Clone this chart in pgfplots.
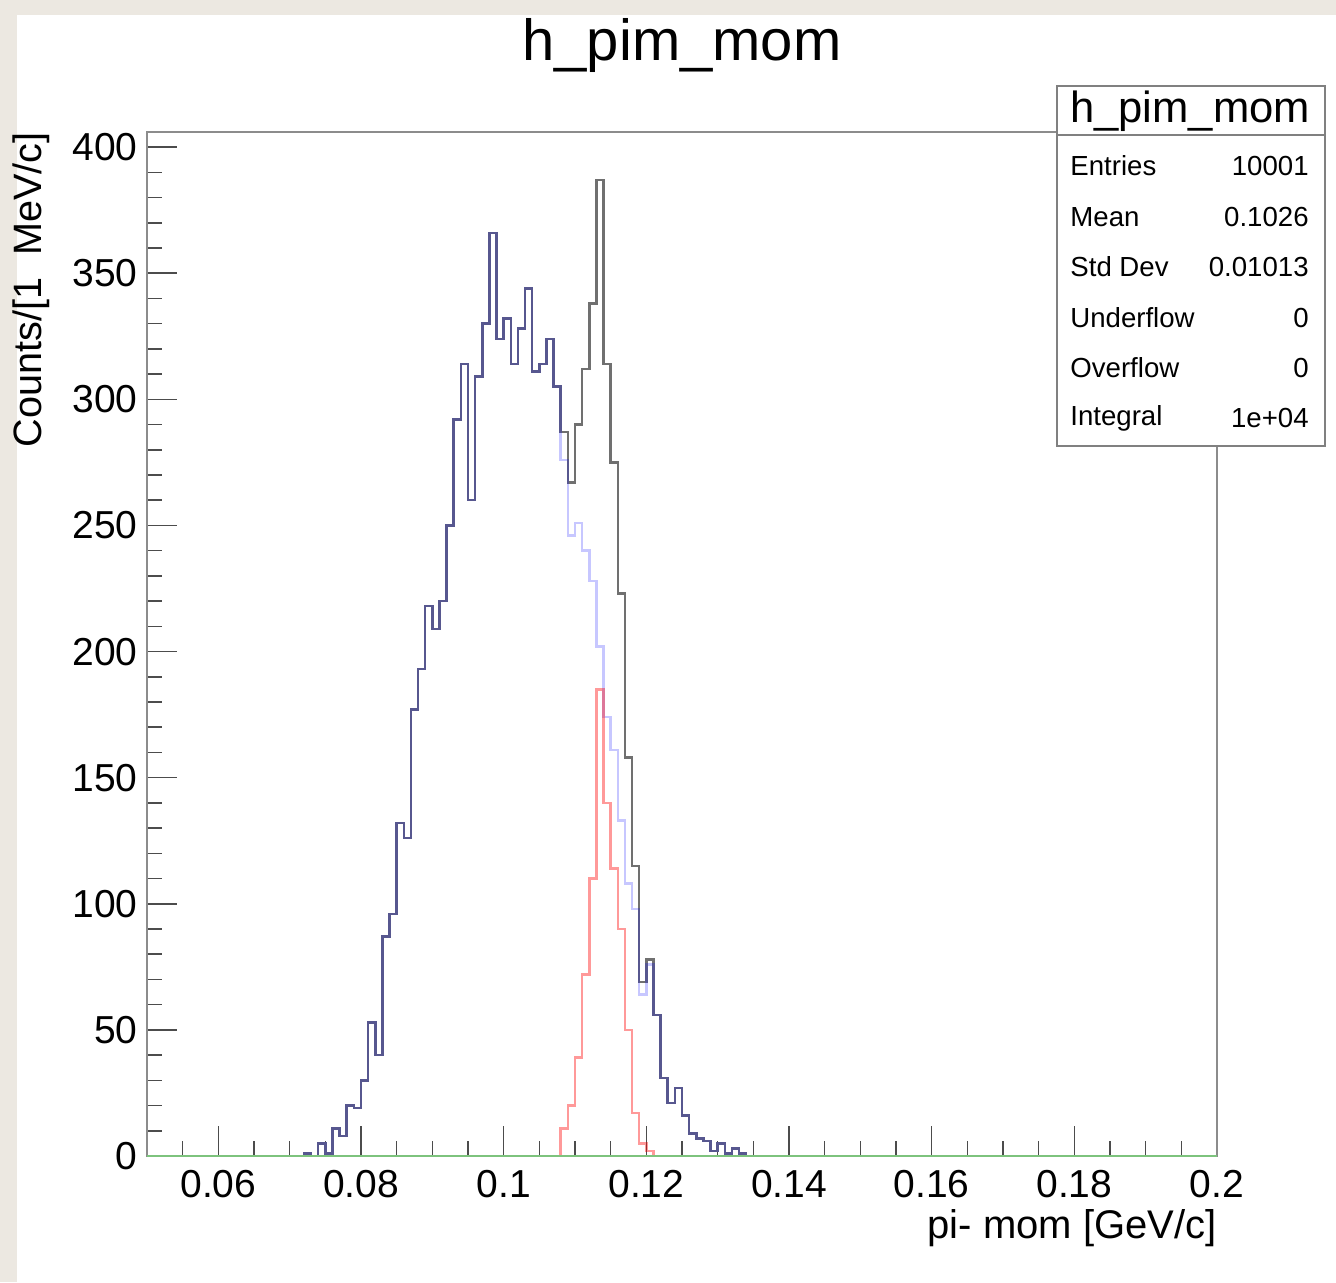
\documentclass[border=0pt]{standalone}
\usepackage{pgfplots}
\pgfplotsset{compat=1.18}
\usepackage{fontspec}
\setmainfont{Liberation Sans}
\definecolor{beige}{RGB}{236,232,225}
\definecolor{histgrey}{RGB}{112,112,112}
\definecolor{rootgreen}{RGB}{125,195,125}
\begin{document}
\begin{tikzpicture}
\fill[beige] (0,0) rectangle (668pt,641pt);
\fill[white] (8.5pt,0) rectangle (668pt,633.5pt);
\begin{axis}[
  at={(73.5pt,63pt)}, anchor=south west,
  scale only axis, width=535pt, height=512pt,
  xmin=0.05, xmax=0.2, ymin=0, ymax=406,
  axis line style={black!45, line width=0.8pt},
  tick style={black!70, line width=0.8pt},
  tick align=inside, tick pos=left,
  major tick length=15pt, minor tick length=7.5pt,
  xtick={0.06,0.08,0.1,0.12,0.14,0.16,0.18,0.2},
  xticklabels={0.06,0.08,0.1,0.12,0.14,0.16,0.18,0.2},
  minor xtick={0.055,0.065,0.07,0.075,0.085,0.09,0.095,0.105,0.11,0.115,0.125,0.13,0.135,0.145,0.15,0.155,0.165,0.17,0.175,0.185,0.19,0.195},
  ytick={0,50,100,150,200,250,300,350,400},
  yticklabels={0,50,100,150,200,250,300,350,400},
  minor ytick={0,10,...,400},
  scaled x ticks=false, scaled y ticks=false,
  ticklabel style={font=\fontsize{19.5}{20}\selectfont},
  yticklabel style={inner sep=1pt, xshift=-3.5pt},
  xticklabel style={inner sep=1pt, yshift=-6pt},
]
\addplot[const plot, histgrey, line width=1.25pt] coordinates {
(0.05,0) (0.072,1) (0.073,0) (0.074,5) (0.075,1) (0.076,11) (0.077,8) (0.078,20) (0.079,19) (0.080,30)
(0.081,53) (0.082,40) (0.083,87) (0.084,96) (0.085,132) (0.086,126) (0.087,177) (0.088,193) (0.089,218) (0.090,209)
(0.091,220) (0.092,250) (0.093,292) (0.094,314) (0.095,260) (0.096,309) (0.097,330) (0.098,366) (0.099,324) (0.100,332)
(0.101,314) (0.102,328) (0.103,344) (0.104,311) (0.105,314) (0.106,324) (0.107,305) (0.108,287) (0.109,267) (0.110,290)
(0.111,312) (0.112,338) (0.113,387) (0.114,314) (0.115,275) (0.116,223) (0.117,158) (0.118,115) (0.119,69) (0.120,78)
(0.121,56) (0.122,31) (0.123,21) (0.124,27) (0.125,16) (0.126,9) (0.127,7) (0.128,6) (0.129,2) (0.130,5)
(0.131,1) (0.132,3) (0.133,1) (0.134,0) (0.2,0)};
\addplot[const plot, blue, opacity=0.22, line width=1.25pt] coordinates {
(0.05,0) (0.072,1) (0.073,0) (0.074,5) (0.075,1) (0.076,11) (0.077,8) (0.078,20) (0.079,19) (0.080,30)
(0.081,53) (0.082,40) (0.083,87) (0.084,96) (0.085,132) (0.086,126) (0.087,177) (0.088,193) (0.089,218) (0.090,209)
(0.091,220) (0.092,250) (0.093,292) (0.094,314) (0.095,260) (0.096,309) (0.097,330) (0.098,366) (0.099,324) (0.100,332)
(0.101,314) (0.102,328) (0.103,344) (0.104,311) (0.105,314) (0.106,324) (0.107,305) (0.108,276) (0.109,246) (0.110,251)
(0.111,240) (0.112,228) (0.113,202) (0.114,174) (0.115,161) (0.116,133) (0.117,108) (0.118,98) (0.119,64) (0.120,76)
(0.121,56) (0.122,31) (0.123,21) (0.124,27) (0.125,16) (0.126,9) (0.127,7) (0.128,6) (0.129,2) (0.130,5)
(0.131,1) (0.132,3) (0.133,1) (0.134,0) (0.2,0)};
\addplot[const plot, red, opacity=0.4, line width=1.25pt] coordinates {
(0.05,0) (0.108,11) (0.109,20) (0.110,39) (0.111,72) (0.112,110) (0.113,185) (0.114,140) (0.115,114) (0.116,90)
(0.117,50) (0.118,17) (0.119,5) (0.120,2) (0.121,0) (0.2,0)};
\addplot[const plot, rootgreen, line width=1.2pt] coordinates {(0.05,0) (0.2,0)};
\end{axis}
% title
\node[font=\fontsize{29}{31}\selectfont, inner sep=0pt] at (341pt,618pt) {h\_pim\_mom};
% axis labels
\node[font=\fontsize{19.8}{21}\selectfont, rotate=90, anchor=east, inner sep=0pt] at (15.5pt,575pt) {Counts/[1\ \ MeV/c]};
\node[font=\fontsize{20}{21}\selectfont, anchor=east, inner sep=0pt] at (608.5pt,27pt) {pi- mom [GeV/c]};
% stats box
\draw[fill=white, draw=black!50, line width=0.8pt] (528.5pt,418pt) rectangle (662.5pt,598pt);
\draw[black!50, line width=0.8pt] (528.5pt,573.5pt) -- (662.5pt,573.5pt);
\node[font=\fontsize{21.8}{22}\selectfont, inner sep=0pt] at (595pt,585.5pt) {h\_pim\_mom};
\begin{scope}[every node/.style={font=\fontsize{13.8}{14}\selectfont, inner sep=0pt}]
\node[anchor=west] at (535pt,558pt) {Entries};
\node[anchor=east] at (654.5pt,558pt) {10001};
\node[anchor=west] at (535pt,532.5pt) {Mean};
\node[anchor=east] at (654.5pt,532.5pt) {0.1026};
\node[anchor=west] at (535pt,507.5pt) {Std Dev};
\node[anchor=east] at (654.5pt,507.5pt) {0.01013};
\node[anchor=west] at (535pt,482pt) {Underflow};
\node[anchor=east] at (654.5pt,482pt) {0};
\node[anchor=west] at (535pt,457pt) {Overflow};
\node[anchor=east] at (654.5pt,457pt) {0};
\node[anchor=west] at (535pt,432pt) {Integral};
\node[anchor=east] at (654.5pt,432pt) {1e+04};
\end{scope}
\pgfresetboundingbox
\path[use as bounding box] (0,0) rectangle (668pt,641pt);
\end{tikzpicture}
\end{document}
